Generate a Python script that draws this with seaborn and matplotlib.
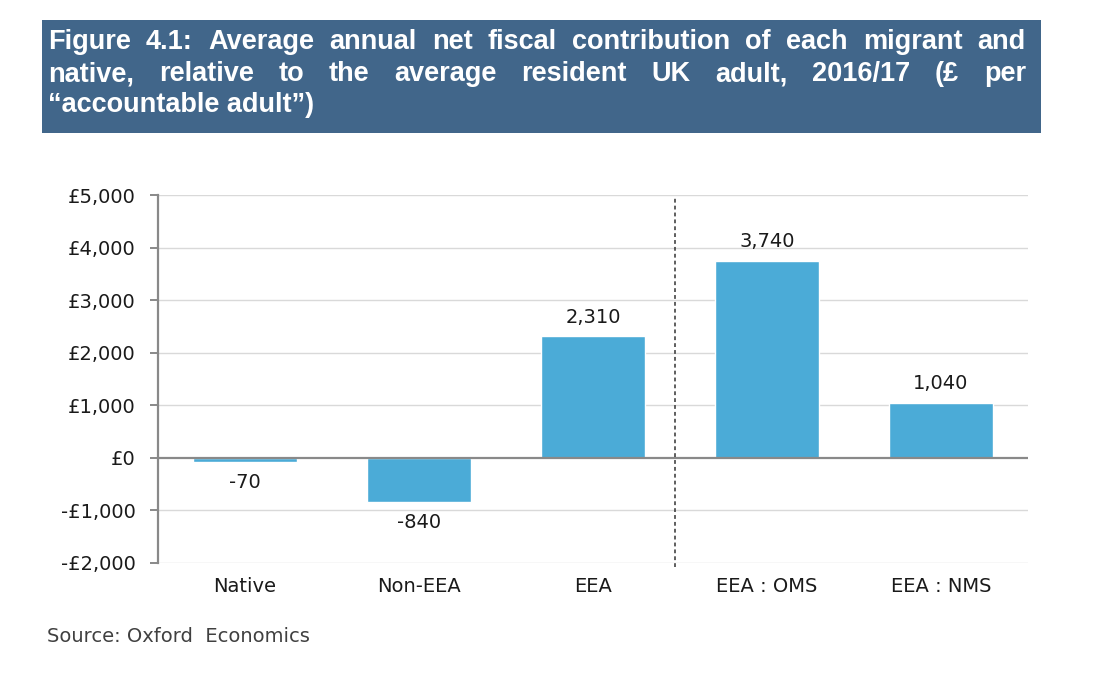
import matplotlib
matplotlib.use('Agg')
import matplotlib.pyplot as plt
import matplotlib.patches as mpatches
from matplotlib import font_manager
from matplotlib.ticker import FuncFormatter
import seaborn as sns

# 数据
categories = ['Native', 'Non-EEA', 'EEA', 'EEA : OMS', 'EEA : NMS']
values = [-70, -840, 2310, 3740, 1040]
y_ticks = [-2000, -1000, 0, 1000, 2000, 3000, 4000, 5000]
title_lines = ['Figure 4.1: Average annual net fiscal contribution of each migrant and',
               'native, relative to the average resident UK adult, 2016/17 (\u00a3 per',
               '\u201caccountable adult\u201d)']
source = 'Source: Oxford  Economics'

W, H = 1102, 674
sns.set_style('white')
plt.rcParams['font.family'] = ['DejaVu Sans']

# 标题字体: Liberation Sans Bold (非 Narrow)
title_fp = None
for f in font_manager.fontManager.ttflist:
    if f.name == 'Liberation Sans' and 'Narrow' not in f.fname and f.weight in (700, 'bold') \
            and f.style == 'normal':
        title_fp = font_manager.FontProperties(fname=f.fname, size=19.5)
        break
if title_fp is None:
    title_fp = font_manager.FontProperties(family='DejaVu Sans', weight='bold', size=17.5)

fig = plt.figure(figsize=(W / 100, H / 100), dpi=100)
ax = fig.add_axes([158 / W, 1 - 563 / H, (1028 - 158) / W, (563 - 195) / H])

bar_color = '#4babd7'
sns.barplot(x=categories, y=values, color=bar_color, saturation=1, width=0.6, ax=ax, zorder=3)

ax.set_xlim(-0.5, 4.5)
ax.set_ylim(-2000, 5000)
ax.set_yticks(y_ticks)


def pound(v, pos):
    v = int(v)
    if v < 0:
        return '-\u00a3{:,}'.format(-v)
    return '\u00a3{:,}'.format(v)


ax.yaxis.set_major_formatter(FuncFormatter(pound))
for y in y_ticks:
    if y == 0:
        ax.axhline(0, color='#898989', lw=1.6, zorder=4)
    else:
        ax.axhline(y, color='#d9d9d9', lw=1.0, zorder=1)

for s in ['top', 'right', 'bottom']:
    ax.spines[s].set_visible(False)
ax.spines['left'].set_color('#898989')
ax.spines['left'].set_linewidth(1.6)
ax.tick_params(axis='y', direction='out', length=6, width=1.4, color='#898989',
               labelsize=14, labelcolor='#1a1a1a', pad=10, left=True)
ax.tick_params(axis='x', length=0, labelsize=14, labelcolor='#1a1a1a', pad=10)
ax.set_xlabel('')
ax.set_ylabel('')

# 分隔虚线
ax.axvline(2.47, ymin=-0.012, ymax=0.995, color='#333333', lw=1.1,
           linestyle=(0, (2.5, 2)), clip_on=False, zorder=5)

# 数值标签
for i, v in enumerate(values):
    if v >= 0:
        ax.annotate('{:,}'.format(v), (i, v), xytext=(0, 10), textcoords='offset points',
                    ha='center', va='baseline', fontsize=14, color='#1a1a1a')
    else:
        ax.annotate('{:,}'.format(v), (i, v), xytext=(0, -8), textcoords='offset points',
                    ha='center', va='top', fontsize=14, color='#1a1a1a')

# 标题框
fig.patches.append(mpatches.Rectangle((42 / W, 1 - 133 / H), (1041 - 42) / W, (133 - 20) / H,
                                      transform=fig.transFigure, facecolor='#41668a',
                                      edgecolor='none', zorder=0))

renderer = fig.canvas.get_renderer()
x0, x1 = 48, 1026
baselines = [49, 81, 112]
for li, line in enumerate(title_lines):
    yb = 1 - baselines[li] / H
    if li == len(title_lines) - 1:
        fig.text(x0 / W, yb, line, ha='left', va='baseline', color='white',
                 fontproperties=title_fp)
        continue
    words = line.split(' ')
    texts = [fig.text(0, yb, w, ha='left', va='baseline', color='white',
                      fontproperties=title_fp) for w in words]
    widths = [t.get_window_extent(renderer).width for t in texts]
    gap = (x1 - x0 - sum(widths)) / (len(words) - 1)
    x = x0
    for t, w in zip(texts, widths):
        t.set_x(x / W)
        x += w + gap

fig.text(47 / W, 1 - 637 / H, source, ha='left', va='center', fontsize=14, color='#404040')

fig.savefig('out.png', dpi=100)
